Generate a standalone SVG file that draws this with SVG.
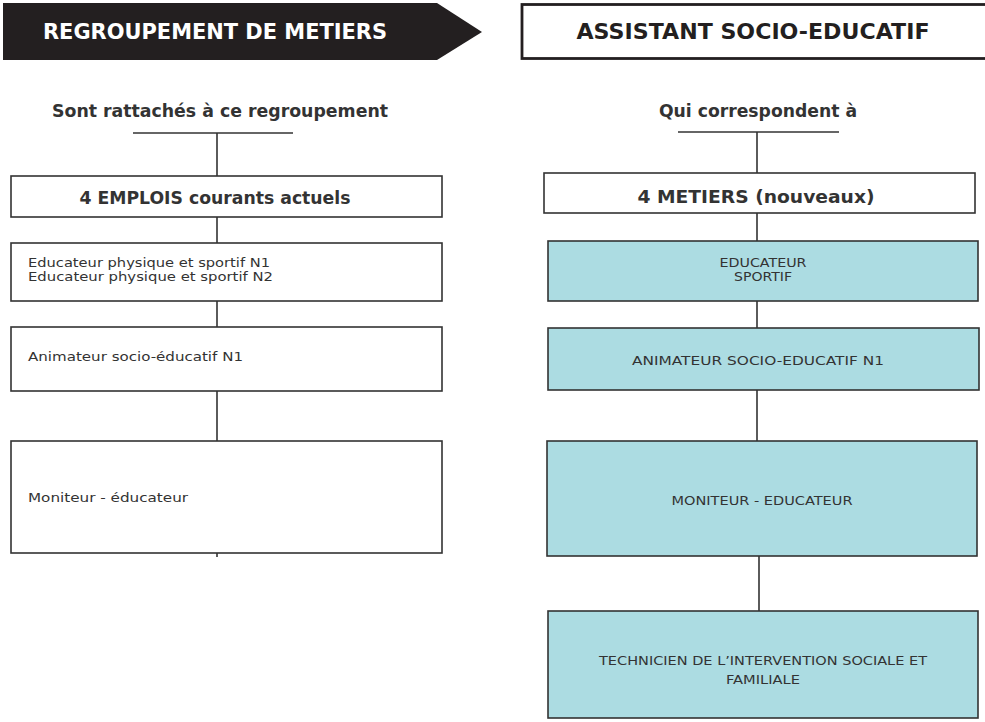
<svg xmlns="http://www.w3.org/2000/svg" width="985" height="722" viewBox="0 0 985 722">
<style>
.box{fill:#ffffff;stroke:#333333;stroke-width:1.6}
.blue{fill:#acdce2;stroke:#333333;stroke-width:1.6}
.ln{stroke:#333333;stroke-width:1.6;fill:none}
.t{font-family:"DejaVu Sans","Liberation Sans",sans-serif;fill:#333333}
.b{font-weight:bold}
</style>
<rect width="985" height="722" fill="#ffffff"/>
<g id="banner-left">
<polygon points="3,3 437,3 482,32 437,60 3,60" fill="#231f20"/>
<text class="t b" x="215" y="38.5" font-size="21" text-anchor="middle" textLength="344" lengthAdjust="spacingAndGlyphs" style="fill:#ffffff">REGROUPEMENT DE METIERS</text>
</g>
<g id="banner-right">
<rect x="522" y="4.5" width="470" height="54" fill="#ffffff" stroke="#231f20" stroke-width="2.8"/>
<text class="t b" x="753" y="39" font-size="21" text-anchor="middle" textLength="353" lengthAdjust="spacingAndGlyphs" style="fill:#231f20">ASSISTANT SOCIO-EDUCATIF</text>
</g>
<g id="heading-left">
<text class="t b" x="220" y="117" font-size="17" text-anchor="middle" textLength="336" lengthAdjust="spacingAndGlyphs">Sont rattachés à ce regroupement</text>
<line class="ln" x1="133" y1="133" x2="293" y2="133"/>
</g>
<g id="heading-right">
<text class="t b" x="758" y="117" font-size="17" text-anchor="middle" textLength="198" lengthAdjust="spacingAndGlyphs">Qui correspondent à</text>
<line class="ln" x1="678" y1="132" x2="839" y2="132"/>
</g>
<g id="connectors">
<line class="ln" x1="217" y1="133" x2="217" y2="176"/>
<line class="ln" x1="217" y1="217" x2="217" y2="243"/>
<line class="ln" x1="217" y1="301" x2="217" y2="327"/>
<line class="ln" x1="217" y1="391" x2="217" y2="441"/>
<line class="ln" x1="217" y1="553" x2="217" y2="557"/>
<line class="ln" x1="757" y1="132" x2="757" y2="173"/>
<line class="ln" x1="757" y1="213" x2="757" y2="241"/>
<line class="ln" x1="757" y1="301" x2="757" y2="328"/>
<line class="ln" x1="757" y1="390" x2="757" y2="441"/>
<line class="ln" x1="759" y1="556" x2="759" y2="611"/>
</g>
<g id="emplois-title">
<rect class="box" x="11" y="176" width="431" height="41"/>
<text class="t b" x="215" y="204" font-size="17" text-anchor="middle" textLength="271" lengthAdjust="spacingAndGlyphs">4 EMPLOIS courants actuels</text>
</g>
<g id="emploi-educateur">
<rect class="box" x="11" y="243" width="431" height="58"/>
<text class="t" x="28" y="267" font-size="11.5" textLength="242" lengthAdjust="spacingAndGlyphs">Educateur physique et sportif N1</text>
<text class="t" x="28" y="281" font-size="11.5" textLength="245" lengthAdjust="spacingAndGlyphs">Educateur physique et sportif N2</text>
</g>
<g id="emploi-animateur">
<rect class="box" x="11" y="327" width="431" height="64"/>
<text class="t" x="28" y="361" font-size="12" textLength="215" lengthAdjust="spacingAndGlyphs">Animateur socio-éducatif N1</text>
</g>
<g id="emploi-moniteur">
<rect class="box" x="11" y="441" width="431" height="112"/>
<text class="t" x="28" y="502" font-size="12" textLength="160" lengthAdjust="spacingAndGlyphs">Moniteur - éducateur</text>
</g>
<g id="metiers-title">
<rect class="box" x="544" y="173" width="431" height="40"/>
<text class="t b" x="756" y="203" font-size="17" text-anchor="middle" textLength="237" lengthAdjust="spacingAndGlyphs">4 METIERS (nouveaux)</text>
</g>
<g id="metier-educateur">
<rect class="blue" x="548" y="241" width="430" height="60"/>
<text class="t" x="763" y="267" font-size="11.5" text-anchor="middle" textLength="87" lengthAdjust="spacingAndGlyphs">EDUCATEUR</text>
<text class="t" x="763" y="281" font-size="11.5" text-anchor="middle" textLength="58" lengthAdjust="spacingAndGlyphs">SPORTIF</text>
</g>
<g id="metier-animateur">
<rect class="blue" x="548" y="328" width="431" height="62"/>
<text class="t" x="758" y="365" font-size="12" text-anchor="middle" textLength="252" lengthAdjust="spacingAndGlyphs">ANIMATEUR SOCIO-EDUCATIF N1</text>
</g>
<g id="metier-moniteur">
<rect class="blue" x="547" y="441" width="430" height="115"/>
<text class="t" x="762" y="505" font-size="12" text-anchor="middle" textLength="181" lengthAdjust="spacingAndGlyphs">MONITEUR - EDUCATEUR</text>
</g>
<g id="metier-technicien">
<rect class="blue" x="548" y="611" width="430" height="107"/>
<text class="t" x="763" y="665" font-size="12" text-anchor="middle" textLength="328" lengthAdjust="spacingAndGlyphs">TECHNICIEN DE L’INTERVENTION SOCIALE ET</text>
<text class="t" x="763" y="684" font-size="12" text-anchor="middle" textLength="74" lengthAdjust="spacingAndGlyphs">FAMILIALE</text>
</g>
</svg>
